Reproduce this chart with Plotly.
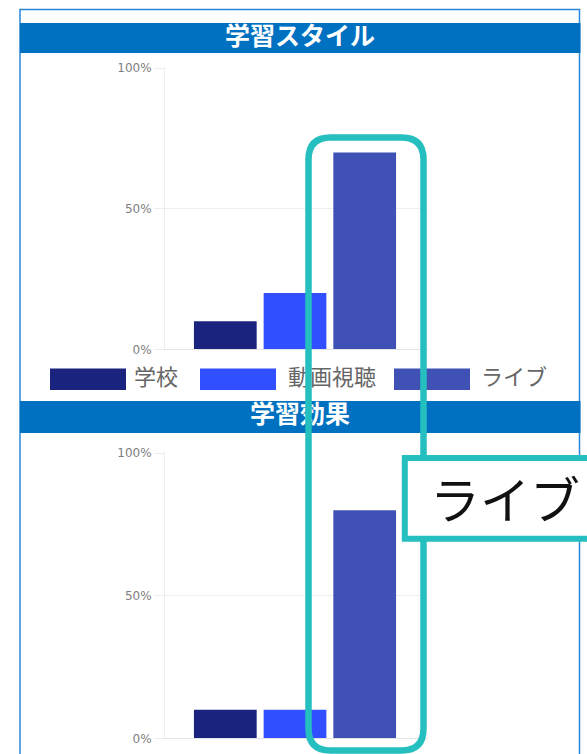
import plotly.graph_objects as go

# ---------------- data ----------------
categories = ["学校", "動画視聴", "ライブ"]
style_values = [10, 20, 70]      # 学習スタイル (%)
effect_values = [10, 10, 80]     # 学習効果 (%)
series_colors = ["#1A237E", "#304FFE", "#3F51B5"]
panel_titles = ["学習スタイル", "学習効果"]
tick_vals = [0, 50, 100]
tick_text = ["0%", "50%", "100%"]
callout_text = "ライブ"

W, H = 587, 754
TEAL = "#25BFBF"
BAR_BLUE = "#0070C0"
BORDER = "#2A86D8"


def px(x):
    return x / W


def py(y):
    return 1 - y / H


fig = go.Figure()

panels = [
    dict(values=style_values, xa="x", ya="y"),
    dict(values=effect_values, xa="x2", ya="y2"),
]

for k, p in enumerate(panels):
    for name, val, col in zip(categories, p["values"], series_colors):
        fig.add_trace(go.Bar(
            x=[panel_titles[k]], y=[val], name=name,
            marker=dict(color=col, line=dict(width=0)),
            xaxis=p["xa"], yaxis=p["ya"], showlegend=False,
            hovertemplate="%{y}%<extra>" + name + "</extra>",
        ))

axis_common_x = dict(
    showgrid=False, zeroline=False, showticklabels=False, ticks="",
    showline=True, linecolor="#e3e3e3", linewidth=1,
    range=[-0.4943, 0.5057], fixedrange=True,
)
axis_common_y = dict(
    range=[0, 100.3], tickvals=tick_vals, ticktext=tick_text,
    showgrid=True, gridcolor="#eeeeee", gridwidth=1,
    zeroline=False, showline=True, linecolor="#eeeeee", linewidth=1,
    ticks="outside", ticklen=10, tickcolor="#eeeeee",
    tickfont=dict(family="DejaVu Sans", size=12, color="#808080"),
    fixedrange=True, automargin=False,
)

fig.update_layout(
    xaxis=dict(domain=[px(165), px(428)], anchor="y", **axis_common_x),
    yaxis=dict(domain=[py(349.3), py(67.3)], anchor="x", **axis_common_y),
    xaxis2=dict(domain=[px(165), px(428)], anchor="y2", **axis_common_x),
    yaxis2=dict(domain=[py(738.3), py(452.3)], anchor="x2", **axis_common_y),
    # overlay axes in pixel units for the text layer
    xaxis3=dict(domain=[0, 1], range=[0, W], visible=False, anchor="y3", fixedrange=True),
    yaxis3=dict(domain=[0, 1], range=[H, 0], visible=False, anchor="x3", fixedrange=True),
)

# ---------------- text layer (traces, so the highlight frame can sit above) ----------------
fig.add_trace(go.Scatter(
    x=[300, 300], y=[38.5, 417], mode="text", text=panel_titles,
    textposition="middle center",
    textfont=dict(family="Noto Sans CJK JP", size=25, color="white", weight="bold"),
    xaxis="x3", yaxis="y3", showlegend=False, hoverinfo="skip", cliponaxis=False,
))

legend_swatch_x = [50, 200, 394]
legend_text_x = [134, 288, 481]
legend_y = 379.5
fig.add_trace(go.Scatter(
    x=legend_text_x, y=[legend_y] * 3, mode="text", text=categories,
    textposition="middle right",
    textfont=dict(family="Noto Sans CJK JP", size=22, color="#666666"),
    xaxis="x3", yaxis="y3", showlegend=False, hoverinfo="skip", cliponaxis=False,
))

shapes = []
shapes.append(dict(type="rect", xref="paper", yref="paper",
                   x0=px(20), x1=px(579.5), y0=py(770), y1=py(9.5),
                   line=dict(color=BORDER, width=1.5), fillcolor="white", layer="below"))
for top, bot in [(23, 53), (401, 433)]:
    shapes.append(dict(type="rect", xref="paper", yref="paper",
                       x0=px(20), x1=px(580.5), y0=py(bot), y1=py(top),
                       line=dict(width=0), fillcolor=BAR_BLUE, layer="below"))
for sx, col in zip(legend_swatch_x, series_colors):
    shapes.append(dict(type="rect", xref="paper", yref="paper",
                       x0=px(sx), x1=px(sx + 76), y0=py(390), y1=py(368.5),
                       line=dict(width=0), fillcolor=col, layer="below"))

x0, x1, y0, y1, r = 308.5, 423.5, 137.5, 750.5, 22
pts = [
    f"M {px(x0 + r)},{py(y0)}",
    f"L {px(x1 - r)},{py(y0)}",
    f"Q {px(x1)},{py(y0)} {px(x1)},{py(y0 + r)}",
    f"L {px(x1)},{py(y1 - r)}",
    f"Q {px(x1)},{py(y1)} {px(x1 - r)},{py(y1)}",
    f"L {px(x0 + r)},{py(y1)}",
    f"Q {px(x0)},{py(y1)} {px(x0)},{py(y1 - r)}",
    f"L {px(x0)},{py(y0 + r)}",
    f"Q {px(x0)},{py(y0)} {px(x0 + r)},{py(y0)}",
    "Z",
]
shapes.append(dict(type="path", xref="paper", yref="paper", path=" ".join(pts),
                   line=dict(color=TEAL, width=6.5), fillcolor="rgba(0,0,0,0)", layer="above"))
shapes.append(dict(type="rect", xref="paper", yref="paper",
                   x0=px(404.8), x1=px(610), y0=py(538.8), y1=py(458),
                   line=dict(color=TEAL, width=6), fillcolor="white", layer="above"))

fig.update_layout(
    shapes=shapes,
    annotations=[dict(
        text=callout_text, xref="paper", yref="paper",
        x=px(428), y=py(497), xanchor="left", yanchor="middle", showarrow=False,
        font=dict(family="Noto Sans CJK JP", size=50, color="#111111"),
    )],
    width=W, height=H,
    margin=dict(l=0, r=0, t=0, b=0, autoexpand=False),
    paper_bgcolor="white", plot_bgcolor="rgba(0,0,0,0)",
    barmode="group", bargap=0.205, bargroupgap=0.1,
    showlegend=False,
)

fig.write_html(
    "out.html",
    config={"displayModeBar": False},
    post_script=(
        "document.body.style.margin='0';"
        "document.body.style.padding='0';"
        "document.body.style.overflow='hidden';"
        "document.documentElement.style.overflow='hidden';"
    ),
)
